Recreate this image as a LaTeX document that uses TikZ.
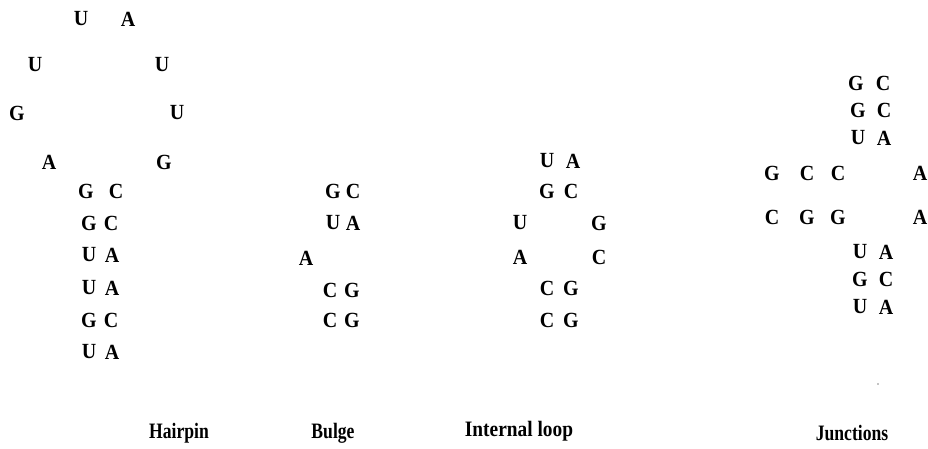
\documentclass[tikz,border=0pt]{standalone}
\usepackage{fontspec}
\setmainfont{Liberation Serif}
\tikzset{
  base/.style={font=\fontsize{20}{20}\selectfont\bfseries, inner sep=0pt, anchor=center, yscale=1.08},
  caption/.style={font=\fontsize{22}{22}\selectfont\bfseries, inner sep=0pt, anchor=center, xscale=0.8}
}
\begin{document}
\begin{tikzpicture}[x=1pt,y=-1pt]
\useasboundingbox (0,0) rectangle (928,448);
% ---- Hairpin: loop
\node[base] (h1) at (81,19) {U};
\node[base] (h2) at (128,19) {A};
\node[base] (h3) at (35,65) {U};
\node[base] (h4) at (162,65) {U};
\node[base] (h5) at (17,113) {G};
\node[base] (h6) at (177,113) {U};
\node[base] (h7) at (49,162) {A};
\node[base] (h8) at (164,162) {G};
% ---- Hairpin: stem
\node[base] (hs1l) at (86,191) {G};  \node[base] (hs1r) at (116,191) {C};
\node[base] (hs2l) at (89,223) {G};  \node[base] (hs2r) at (111,223) {C};
\node[base] (hs3l) at (89,255) {U};  \node[base] (hs3r) at (112,255) {A};
\node[base] (hs4l) at (89,288) {U};  \node[base] (hs4r) at (112,288) {A};
\node[base] (hs5l) at (89,320) {G};  \node[base] (hs5r) at (111,320) {C};
\node[base] (hs6l) at (89,352) {U};  \node[base] (hs6r) at (112,352) {A};
% ---- Bulge
\node[base] (b1l) at (333,191) {G};  \node[base] (b1r) at (353,191) {C};
\node[base] (b2l) at (333,223) {U};  \node[base] (b2r) at (353,223) {A};
\node[base] (b3)  at (306,258) {A};
\node[base] (b4l) at (330,290) {C};  \node[base] (b4r) at (352,290) {G};
\node[base] (b5l) at (330,320) {C};  \node[base] (b5r) at (352,320) {G};
% ---- Internal loop
\node[base] (i1l) at (547,161) {U};  \node[base] (i1r) at (573,161) {A};
\node[base] (i2l) at (547,191) {G};  \node[base] (i2r) at (571,191) {C};
\node[base] (i3l) at (520,223) {U};  \node[base] (i3r) at (599,223) {G};
\node[base] (i4l) at (520,257) {A};  \node[base] (i4r) at (599,257) {C};
\node[base] (i5l) at (547,288) {C};  \node[base] (i5r) at (571,288) {G};
\node[base] (i6l) at (547,320) {C};  \node[base] (i6r) at (571,320) {G};
% ---- Junctions
\node[base] (j1l) at (856,83) {G};   \node[base] (j1r) at (883,83) {C};
\node[base] (j2l) at (858,110) {G};  \node[base] (j2r) at (884,110) {C};
\node[base] (j3l) at (858,138) {U};  \node[base] (j3r) at (884,138) {A};
\node[base] (j4a) at (772,173) {G};  \node[base] (j4b) at (807,173) {C};
\node[base] (j4c) at (838,173) {C};  \node[base] (j4d) at (920,173) {A};
\node[base] (j5a) at (772,217) {C};  \node[base] (j5b) at (807,217) {G};
\node[base] (j5c) at (838,217) {G};  \node[base] (j5d) at (920,217) {A};
\node[base] (j6l) at (860,252) {U};  \node[base] (j6r) at (886,252) {A};
\node[base] (j7l) at (860,279) {G};  \node[base] (j7r) at (886,279) {C};
\node[base] (j8l) at (860,307) {U};  \node[base] (j8r) at (886,307) {A};
% ---- stray speck
\fill (878,384) circle (0.6);
% ---- Captions
\node[caption] (c1) at (179,433) {Hairpin};
\node[caption] (c2) at (333,433) {Bulge};
\node[caption, xscale=1.1] (c3) at (519,431) {Internal loop};
\node[caption] (c4) at (852,433) {Junctions};
\end{tikzpicture}
\end{document}
